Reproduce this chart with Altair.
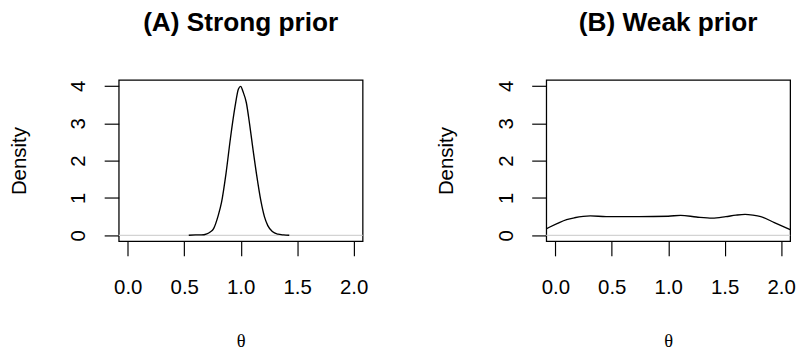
import altair as alt
import pandas as pd

# Strong prior density
strong_theta = [0.54, 0.60, 0.65, 0.70, 0.73, 0.76, 0.80, 0.83, 0.87, 0.91, 0.95, 0.98, 1.00, 1.02, 1.05, 1.08, 1.10, 1.14, 1.18, 1.21, 1.24, 1.28, 1.33, 1.38, 1.43]
strong_density = [0.00, 0.01, 0.01, 0.04, 0.09, 0.18, 0.52, 0.88, 1.66, 2.62, 3.45, 3.92, 3.99, 3.85, 3.55, 2.95, 2.50, 1.64, 0.90, 0.50, 0.26, 0.10, 0.03, 0.01, 0.00]

# Weak prior density
weak_theta = [-0.09, 0.02, 0.10, 0.17, 0.31, 0.45, 0.74, 1.00, 1.11, 1.25, 1.39, 1.51, 1.60, 1.68, 1.75, 1.82, 1.94, 2.08]
weak_density = [0.16, 0.32, 0.42, 0.47, 0.52, 0.50, 0.50, 0.51, 0.535, 0.49, 0.46, 0.50, 0.54, 0.56, 0.54, 0.50, 0.34, 0.15]

x_ticks = [0.0, 0.5, 1.0, 1.5, 2.0]
y_ticks = [0, 1, 2, 3, 4]
titles = ["(A) Strong prior", "(B) Weak prior"]


def panel(theta, dens, title):
    df = pd.DataFrame({"theta": theta, "density": dens})
    xscale = alt.Scale(domain=[-0.08, 2.08], nice=False, zero=False)
    yscale = alt.Scale(domain=[-0.16, 4.16], nice=False, zero=False)
    x = alt.X(
        "theta:Q",
        scale=xscale,
        axis=alt.Axis(
            values=x_ticks, format=".1f", title="θ", domain=False, grid=False,
            tickSize=15, tickColor="black", tickWidth=1.2,
            labelFont="Liberation Sans", labelFontSize=21, labelColor="black",
            labelPadding=22, labelFlush=False,
            titleFont="Liberation Serif", titleFontSize=19, titleFontWeight="normal",
            titleColor="black", titlePadding=35,
        ),
    )
    y = alt.Y(
        "density:Q",
        scale=yscale,
        axis=alt.Axis(
            values=y_ticks, title="Density", domain=False, grid=False,
            tickSize=15, tickColor="black", tickWidth=1.2,
            labelFont="Liberation Sans", labelFontSize=21, labelColor="black",
            labelAngle=-90, labelAlign="center", labelBaseline="bottom",
            labelPadding=16, labelFlush=False,
            titleFont="Liberation Sans", titleFontSize=21, titleFontWeight="normal",
            titleColor="black", titlePadding=40,
        ),
    )
    zero = alt.Chart(pd.DataFrame({"density": [0]})).mark_rule(
        color="#d3d3d3", strokeWidth=1.2
    ).encode(y=alt.Y("density:Q", scale=yscale))
    line = alt.Chart(df).mark_line(
        color="black", strokeWidth=1.4, clip=True, interpolate="monotone"
    ).encode(x=x, y=y)
    return alt.layer(zero, line).properties(
        width=251,
        height=166,
        title=alt.TitleParams(
            text=title, font="Liberation Sans", fontSize=27, fontWeight="bold",
            color="black", anchor="middle", frame="group", offset=40, dy=-4,
        ),
    )


chart = alt.hconcat(
    panel(strong_theta, strong_density, titles[0]),
    panel(weak_theta, weak_density, titles[1]),
    spacing=69,
).properties(
    padding={"left": 0, "top": -4, "right": 0, "bottom": 0}
).configure_view(
    stroke="black", strokeWidth=1.3
)

chart.save("out.html", embed_options={"renderer": "svg", "actions": False})
